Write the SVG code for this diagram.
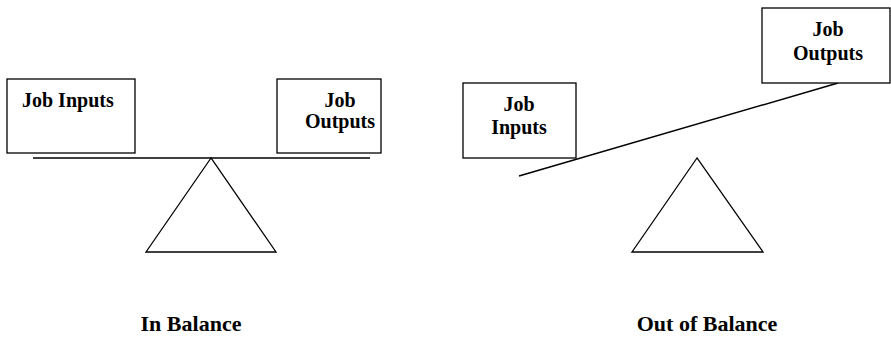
<svg xmlns="http://www.w3.org/2000/svg" width="891" height="349" viewBox="0 0 891 349">
<style>
.box{fill:#fff;stroke:#000;stroke-width:1.3}
.beam{stroke:#000;stroke-width:1.5;fill:none}
.tri{fill:#fff;stroke:#000;stroke-width:1.3}
.t{font-family:"Liberation Serif","Times New Roman",serif;font-weight:bold;font-size:20px;fill:#000}
.c{text-anchor:middle}
.cap{font-family:"Liberation Serif","Times New Roman",serif;font-weight:bold;font-size:22px;fill:#000;text-anchor:middle}
</style>
<rect width="891" height="349" fill="#fff"/>
<g id="connectors">
<line class="beam" x1="33" y1="158" x2="370" y2="158"/>
<line class="beam" x1="519" y1="176" x2="838" y2="83"/>
</g>
<g id="left-inputs">
<rect class="box" x="7" y="79" width="128" height="74"/>
<text class="t" x="22" y="107">Job Inputs</text>
</g>
<g id="left-outputs">
<rect class="box" x="277" y="79" width="104" height="74"/>
<text class="t c" x="340" y="107">Job</text>
<text class="t c" x="340" y="128">Outputs</text>
</g>
<g id="left-fulcrum">
<polygon class="tri" points="211,158 146,252 276,252"/>
</g>
<g id="right-inputs">
<rect class="box" x="463" y="83" width="113" height="75"/>
<text class="t c" x="519" y="111">Job</text>
<text class="t c" x="519" y="134">Inputs</text>
</g>
<g id="right-outputs">
<rect class="box" x="762" y="8" width="128" height="75"/>
<text class="t c" x="828" y="36">Job</text>
<text class="t c" x="828" y="60">Outputs</text>
</g>
<g id="right-fulcrum">
<polygon class="tri" points="697,158 632,252 763,252"/>
</g>
<g id="labels">
<text class="cap" x="191" y="331">In Balance</text>
<text class="cap" x="707" y="331">Out of Balance</text>
</g>
</svg>
